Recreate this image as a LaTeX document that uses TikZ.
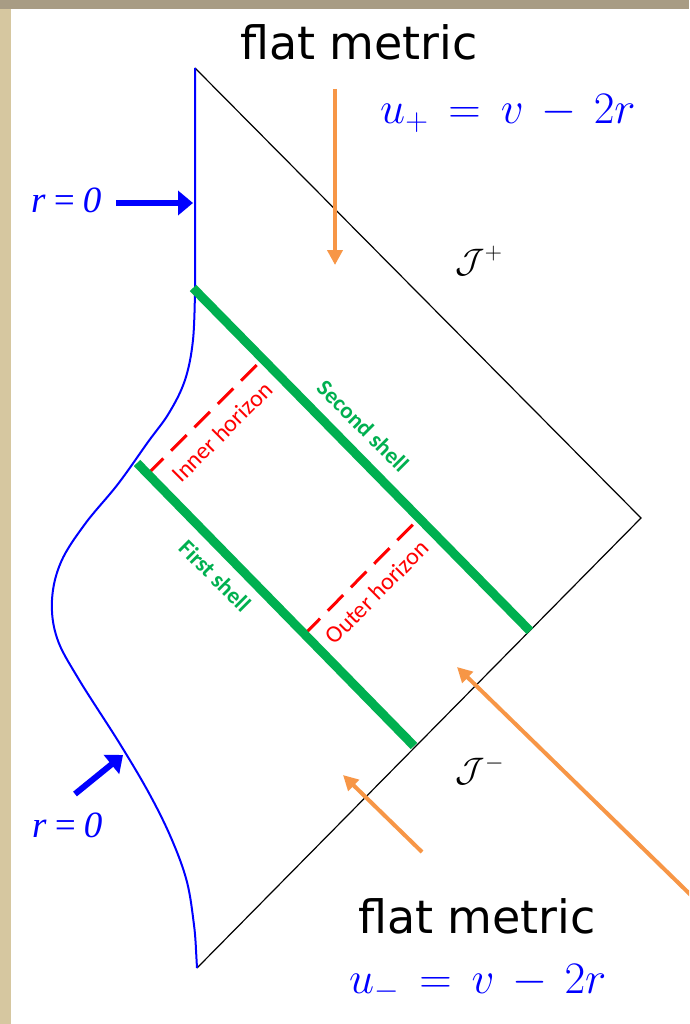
\RequirePackage{fix-cm}
\documentclass[tikz,border=0pt]{standalone}
\usepackage{fontspec}
\usetikzlibrary{arrows.meta,calc}
\newfontfamily\handfont{DejaVu Sans}
\newfontfamily\labelfont{Carlito}
\newfontfamily\serffont{Liberation Serif}
\definecolor{shellgreen}{RGB}{0,176,80}
\definecolor{arroworange}{RGB}{247,150,70}
\definecolor{framebeige}{RGB}{214,199,160}
\definecolor{frametop}{RGB}{168,156,132}
\tikzset{
  shell/.style={line width=9pt, shellgreen},
  horizon/.style={line width=3pt, red, dash pattern=on 22pt off 11pt},
  pointer/.style={line width=4pt, arroworange, -{Triangle[length=15pt,width=15pt]}},
  zeroarrow/.style={line width=6pt, blue, -{Triangle[length=15pt,width=24pt]}},
  shelltext/.style={inner sep=0pt, shellgreen, font=\labelfont\bfseries\fontsize{23}{25}\selectfont},
  horizontext/.style={inner sep=0pt, red, font=\labelfont\fontsize{24}{26}\selectfont},
  flattext/.style={inner sep=0pt, font=\handfont\fontsize{46}{50}\selectfont},
  utext/.style={inner sep=0pt, blue, font=\fontsize{45}{48}\selectfont},
  zerotext/.style={inner sep=0pt, blue, font=\serffont\itshape\fontsize{37}{40}\selectfont},
  scritext/.style={inner sep=0pt, font=\fontsize{34}{38}\selectfont}
}
\begin{document}
\begin{tikzpicture}[x=1pt,y=-1pt]
\useasboundingbox (0,0) rectangle (689,1024);
%frame
\fill[framebeige] (0,0) rectangle (689,1024);
\fill[frametop] (0,0) rectangle (689,9);
\fill[white] (11,9) rectangle (689,1024);
\clip (11,9) rectangle (689,1024);

%penrose diagram
\coordinate (top) at (195,68);
\coordinate (right) at (641,518);
\coordinate (bottom) at (197,968);
\draw[line width=1.2pt] (top) -- (right) -- (bottom);

%r=0 line
\draw[blue, line width=2pt] (top) -- (195,288) plot[smooth, tension=0.6] coordinates {(195,288) (193,340)
  (185,380) (169,413) (148,442) (118,484) (85,524) (61,562) (52,600) (57,638) (78,678)
  (120,744) (150,795) (172,840) (187,882) (194,925) (196,950)} -- (bottom);

%shells and horizons
\coordinate (s1a) at (137,463);
\coordinate (s1b) at (414,746);
\coordinate (s2a) at (193,288);
\coordinate (s2b) at (530,631);
\draw[horizon] ($(s1a)!0.039!(s1b)$) -- ($(s2a)!0.207!(s2b)$);
\draw[horizon] ($(s1a)!0.605!(s1b)$) -- ($(s2a)!0.671!(s2b)$);
\draw[shell] (s1a) -- (s1b);
\draw[shell] (s2a) -- (s2b);
\node[shelltext, rotate=-45] (second) at (363,426) {Second shell};
\node[shelltext, rotate=-45] (first) at (215,576) {First shell};
\node[horizontext, rotate=45] (inner) at (222,432) {Inner horizon};
\node[horizontext, rotate=45] (outer) at (377,592) {Outer horizon};

%scri labels
\node[scritext] (scriplus) at (479,261) {$\mathcal{J}^{+}$};
\node[scritext] (scriminus) at (480,770) {$\mathcal{J}^{-}$};

%r=0 pointers
\node[zerotext, anchor=base west] (zerotop) at (31,213) {r\,=\,0};
\node[zerotext, anchor=base west] (zerobot) at (32,837) {r\,=\,0};
\coordinate (ztA) at (116,203);
\coordinate (ztB) at (193,203);
\coordinate (zbA) at (75,794);
\coordinate (zbB) at (123,755);
\draw[zeroarrow] (ztA) -- (ztB);
\draw[zeroarrow] (zbA) -- (zbB);

%flat metric regions
\node[flattext] (flattop) at (359,42) {flat metric};
\node[flattext] (flatbot) at (477,916) {flat metric};
\node[utext, anchor=base west] (uplus) at (380,124) {$u_{+}\,=\,v\,-\,2r$};
\node[utext, anchor=base west] (uminus) at (349,993) {$u_{-}\,=\,v\,-\,2r$};
\coordinate (pA) at (335,89);
\coordinate (pAtip) at (335,265);
\coordinate (pB) at (422,852);
\coordinate (pBtip) at (343,775);
\coordinate (pC) at (700,904);
\coordinate (pCtip) at (457,667);
\draw[pointer] (pA) -- (pAtip);
\draw[pointer] (pB) -- (pBtip);
\draw[pointer] (pC) -- (pCtip);
\end{tikzpicture}
\end{document}
